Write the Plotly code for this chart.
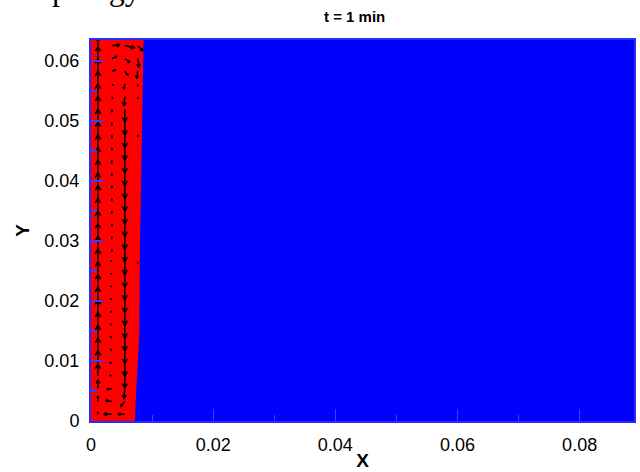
import math
import plotly.graph_objects as go

# ---------------- data ----------------
# domain (m)
x_range = [0.0, 0.0889]
y_range = [0.0, 0.0635]

x_ticks = [0, 0.02, 0.04, 0.06, 0.08]
x_ticklabels = ["0", "0.02", "0.04", "0.06", "0.08"]
y_ticks = [0, 0.01, 0.02, 0.03, 0.04, 0.05, 0.06]
y_ticklabels = ["0", "0.01", "0.02", "0.03", "0.04", "0.05", "0.06"]

# interface of the red phase (right boundary), from bottom to top
interface_y = [0.0, 0.005, 0.0105, 0.014, 0.028, 0.040, 0.050, 0.058, 0.0635]
interface_x = [0.0072, 0.0074, 0.0077, 0.0079, 0.0080, 0.0082, 0.0084, 0.0085, 0.0086]

# velocity-vector grid (only the non-zero part, inside the red phase)
vec_cols_x = [0.00114, 0.00342, 0.00554, 0.00766]
vec_rows_y = [0.00114, 0.00326, 0.00537, 0.00749, 0.00961, 0.01172, 0.01384,
              0.01596, 0.01808, 0.02019, 0.02231, 0.02443, 0.02654, 0.02866,
              0.03078, 0.03289, 0.03501, 0.03713, 0.03925, 0.04136, 0.04348,
              0.04560, 0.04771, 0.04983, 0.05195, 0.05406, 0.05618, 0.05830,
              0.06042, 0.06253]

# velocity components (mm/s), rows bottom -> top, one list per column
u_col1 = [0] * 30
v_col1 = [2, 5, 9, 12, 13, 13, 13, 13, 13, 13, 13, 13, 13, 13, 13,
          13, 13, 13, 13, 13, 13, 13, 13, 13, 13, 13, 13, 13, 12, 8]

u_col2 = [-8, -6, -5, -2, -2, -1.5, -1.5, -1.5, -1.2, -1.2, -1.2, -1, -1, 0,
          0, 0, 0, 0, 0, 0, 0, 0, 0, 0, 0, 0.5, 1, 4, 5, 8]
v_col2 = [0, 1, -0.5, 1, 1, 1.5, 1.5, 1.5, 1.2, 1.2, 1.2, 1, 1, -2,
          -2, -2, -2, -2, -2, -2.5, -2.5, -2.5, -2.5, -2.5, -2.5, -1.5, -1, 1.5, 2, 1]

u_col3 = [-7, -4, -1, 0, 0, 0, 0, 0, 0, 0, 0, 0, 0, 0, 0,
          0, 0, 0, 0, 0, 0, 0, 0, 0, 0, -1, -1, 3, 5, 10]
v_col3 = [0, -5, -10, -12, -13, -13, -13, -13, -13, -13, -13, -13, -13, -13, -13,
          -13, -13, -13, -13, -13, -13, -13, -13, -13, -13, -9, -5, -4, -4, -2]

u_col4 = [0] * 27 + [-1, 1, 5]
v_col4 = [0, 0, 0, 0, 0, 0, 0, 0, 0, 0, 0, 0, -1.5, 0, 0,
          0, 0, 0, 0, 0, 0, 0, -1.5, 0, 0, -1.5, -2, -7, -9, -5]

u_cols = [u_col1, u_col2, u_col3, u_col4]
v_cols = [v_col1, v_col2, v_col3, v_col4]

title_text = "t = 1 min"

# ---------------- styling / layout constants ----------------
W, H = 640, 472
M_L, M_R, M_T, M_B = 91, 4, 40, 42
PLOT_H = H - M_T - M_B
PLOT_W = W - M_L - M_R
VEC_SCALE = 0.000163      # m of arrow length per mm/s
HEAD_FRAC = 0.42
HEAD_ANG = math.radians(30)
RED = "#ff0000"
BLUE = "#0000ff"
TICK_BLUE = "#3c3cff"

fig = go.Figure()

# red phase region
poly_x = [0.0] + interface_x + [0.0]
poly_y = [y_range[0]] + interface_y + [y_range[1]]
fig.add_trace(go.Scatter(x=poly_x, y=poly_y, fill="toself", fillcolor=RED,
                         mode="lines", line=dict(width=0, color=RED),
                         hoverinfo="skip", showlegend=False))

# vector field
qx, qy = [], []
for ci, x0 in enumerate(vec_cols_x):
    for ri, y0 in enumerate(vec_rows_y):
        u = u_cols[ci][ri]
        v = v_cols[ci][ri]
        mag = math.hypot(u, v)
        if mag == 0:
            continue
        x1 = x0 + u * VEC_SCALE
        y1 = y0 + v * VEC_SCALE
        th = math.atan2(v, u)
        b = HEAD_FRAC * mag * VEC_SCALE
        bx1 = x1 + b * math.cos(th + math.pi - HEAD_ANG)
        by1 = y1 + b * math.sin(th + math.pi - HEAD_ANG)
        bx2 = x1 + b * math.cos(th + math.pi + HEAD_ANG)
        by2 = y1 + b * math.sin(th + math.pi + HEAD_ANG)
        qx += [x0, x1, None, bx1, x1, bx2, None]
        qy += [y0, y1, None, by1, y1, by2, None]

fig.add_trace(go.Scatter(x=qx, y=qy, mode="lines",
                         line=dict(color="black", width=1.5),
                         hoverinfo="skip", showlegend=False))

tickfont = dict(family="Liberation Sans, Arial, sans-serif", size=18, color="black")
titlefont = dict(family="Liberation Sans, Arial, sans-serif", size=19, color="black",
                 weight="bold")

fig.update_xaxes(range=x_range, showgrid=False, zeroline=False,
                 tickmode="array", tickvals=x_ticks, ticktext=x_ticklabels,
                 ticks="inside", ticklen=12, tickwidth=1, tickcolor=TICK_BLUE,
                 minor=dict(dtick=0.01, ticks="inside", ticklen=6,
                            tickcolor=TICK_BLUE, showgrid=False),
                 showline=True, linecolor="#2a2aff", linewidth=2, mirror=True,
                 tickfont=tickfont, ticklabelstandoff=6,
                 title=dict(text="<b>X</b>", font=titlefont, standoff=0))
fig.update_yaxes(range=y_range, showgrid=False, zeroline=False,
                 tickmode="array", tickvals=y_ticks, ticktext=y_ticklabels,
                 ticks="inside", ticklen=12, tickwidth=2, tickcolor=TICK_BLUE,
                 minor=dict(dtick=0.005, ticks="inside", ticklen=6,
                            tickcolor=TICK_BLUE, showgrid=False),
                 showline=True, linecolor="#2a2aff", linewidth=2, mirror=True,
                 tickfont=tickfont, ticklabelstandoff=6,
                 title=dict(text="<b>Y</b>", font=titlefont, standoff=10))

fig.update_layout(
    width=W, height=H,
    margin=dict(l=M_L, r=M_R, t=M_T, b=M_B, pad=0),
    plot_bgcolor=BLUE, paper_bgcolor="white",
    showlegend=False,
    annotations=[
        dict(text="<b>" + title_text + "</b>", xref="paper", yref="paper",
             x=(355 - M_L) / PLOT_W, y=1 + (M_T - 16) / PLOT_H,
             xanchor="center", yanchor="middle", showarrow=False,
             font=dict(family="Liberation Sans, Arial, sans-serif", size=15,
                       color="black")),
        # descenders of a caption line that is cut off at the top edge
        dict(text="topology", xref="paper", yref="paper",
             x=(25 - M_L) / PLOT_W, y=1 + (M_T + 33) / PLOT_H,
             xanchor="left", yanchor="top", showarrow=False,
             font=dict(family="Liberation Serif, Times New Roman, serif", size=32,
                       color="black")),
    ],
)

fig.write_html("out.html")
